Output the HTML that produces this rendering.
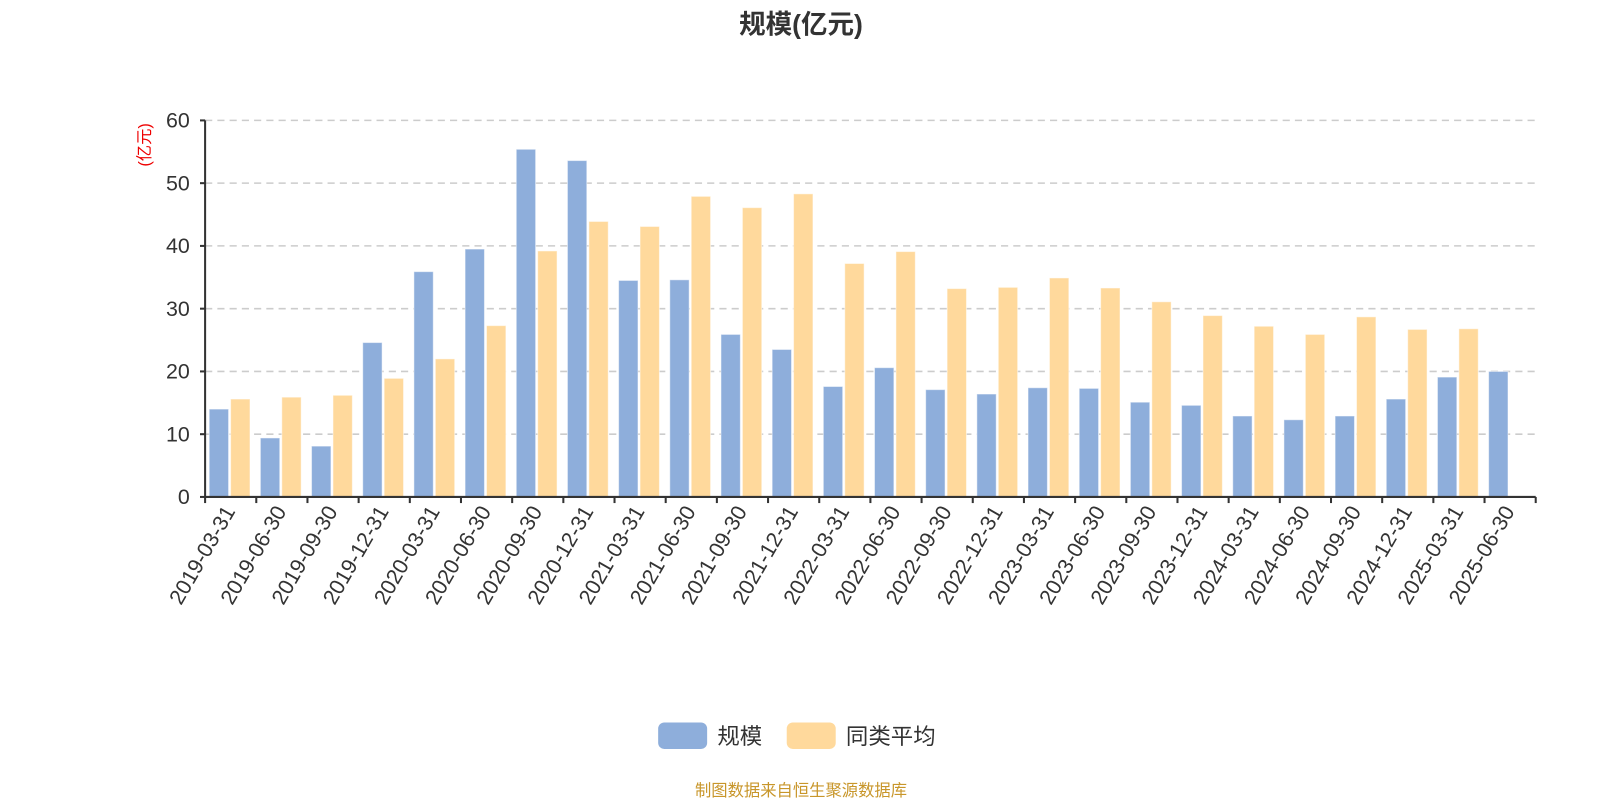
<!DOCTYPE html>
<html><head><meta charset="utf-8"><style>
body{margin:0;background:#fff;width:1600px;height:800px;overflow:hidden;font-family:"Liberation Sans","Noto Sans CJK SC",sans-serif}
</style></head><body>
<svg id="chart" width="1600" height="800" viewBox="0 0 1568 784" xmlns="http://www.w3.org/2000/svg" font-family="Liberation Sans, Noto Sans CJK SC, sans-serif">
<text x="785" y="33" text-anchor="middle" font-size="26" font-weight="bold" fill="#333">规模(亿元)</text>
<text transform="translate(147,142) rotate(-90)" text-anchor="middle" font-size="16" fill="#e00">(亿元)</text>
<g id="grid"></g><g id="bars"></g><g id="axes"></g>
<g>
<rect x="645" y="708" width="48" height="26" rx="6" fill="#8eaedb"/>
<text x="703" y="729" font-size="22" fill="#333">规模</text>
<rect x="771" y="708" width="48" height="26" rx="6" fill="#ffd99c"/>
<text x="829" y="729" font-size="22" fill="#333">同类平均</text>
</g>
<text x="785" y="780" text-anchor="middle" font-size="16" fill="#c8962a">制图数据来自恒生聚源数据库</text>
</svg>
<script>
const categories=["2019-03-31","2019-06-30","2019-09-30","2019-12-31","2020-03-31","2020-06-30","2020-09-30","2020-12-31","2021-03-31","2021-06-30","2021-09-30","2021-12-31","2022-03-31","2022-06-30","2022-09-30","2022-12-31","2023-03-31","2023-06-30","2023-09-30","2023-12-31","2024-03-31","2024-06-30","2024-09-30","2024-12-31","2025-03-31","2025-06-30"];
const scaleValues=[14.0,9.4,8.1,24.6,35.9,39.5,55.4,53.6,34.5,34.6,25.9,23.5,17.6,20.6,17.1,16.4,17.4,17.3,15.1,14.6,12.9,12.3,12.9,15.6,19.1,20.0];
const averageValues=[15.6,15.9,16.2,18.9,22.0,27.3,39.2,43.9,43.1,47.9,46.1,48.3,37.2,39.1,33.2,33.4,34.9,33.3,31.1,28.9,27.2,25.9,28.7,26.7,26.8,null];
const yTicks=[0,10,20,30,40,50,60];
const NS="http://www.w3.org/2000/svg";
const X0=201,X1=1505,Y0=487,Y1=118,YMAX=60;
const bw=(X1-X0)/categories.length;
function y(v){return Y0-(v/YMAX)*(Y0-Y1);}
function xc(i){return X0+i*bw;}
function mk(tag,attrs,parent){const e=document.createElementNS(NS,tag);for(const k in attrs)e.setAttribute(k,attrs[k]);parent.appendChild(e);return e;}
const grid=document.getElementById('grid'),bars=document.getElementById('bars'),axes=document.getElementById('axes');
yTicks.forEach(t=>{
  if(t>0){const l=mk('line',{x1:X0,x2:X1,y1:y(t),y2:y(t),stroke:'#ccc','stroke-width':1.5,'stroke-dasharray':'7,5'},grid);
  
  }
  const tk=mk('line',{x1:X0-5,x2:X0,y1:y(t),y2:y(t),stroke:'#333','stroke-width':2},axes);
  
  
  const tx=mk('text',{x:X0-15,y:y(t)+7,'text-anchor':'end','font-size':21,fill:'#333'},axes);
  tx.textContent=t;
  
  
});
categories.forEach((c,i)=>{
  const sv=scaleValues[i];
  if(sv!=null){const r=mk('rect',{x:xc(i)+4,y:y(sv),width:19,height:Y0-y(sv),fill:'#8eaedb',stroke:'#fff','stroke-opacity':0.5},bars);
  
  }
  const av=averageValues[i];
  if(av!=null){const r=mk('rect',{x:xc(i)+25,y:y(av),width:19,height:Y0-y(av),fill:'#ffd99c',stroke:'#fff','stroke-opacity':0.5},bars);
  
  }
  const tk=mk('line',{x1:xc(i),x2:xc(i),y1:Y0,y2:Y0+6,stroke:'#333','stroke-width':2},axes);
  
  
  const cx=xc(i)+bw/2;
  const tx=mk('text',{transform:`translate(${cx+5},${Y0+14}) rotate(-60)`,'text-anchor':'end','font-size':21,fill:'#333'},axes);
  tx.textContent=c;
  
  
});
const tkEnd=mk('line',{x1:X1,x2:X1,y1:Y0,y2:Y0+6,stroke:'#333','stroke-width':2},axes);


const ya=mk('line',{x1:X0,x2:X0,y1:Y1,y2:Y0,stroke:'#333','stroke-width':2},axes);


const xa=mk('line',{x1:X0,x2:X1,y1:Y0,y2:Y0,stroke:'#333','stroke-width':2},axes);


</script>
</body></html>
